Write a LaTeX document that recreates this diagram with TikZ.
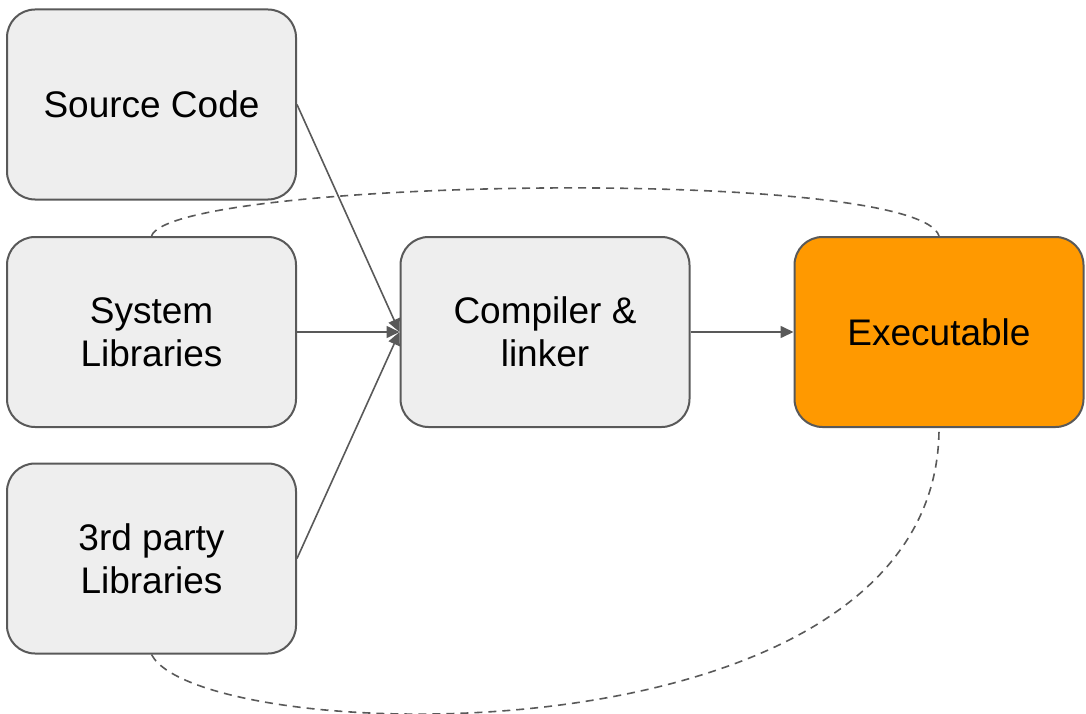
\documentclass[tikz,border=0pt]{standalone}
\usepackage{fontspec}
\setmainfont{Liberation Sans}
\usetikzlibrary{arrows.meta}
\definecolor{boxfill}{HTML}{EEEEEE}
\definecolor{boxline}{HTML}{595959}
\definecolor{orangefill}{HTML}{FF9900}
\tikzset{
  box/.style={draw=boxline, line width=2pt, fill=boxfill, rounded corners=28pt,
    minimum width=289pt, minimum height=190pt, inner sep=0pt, align=center,
    font=\fontsize{37}{43}\selectfont, text=black},
  conn/.style={draw=boxline, line width=1.6pt, -{Triangle[length=13pt,width=12pt]}},
  loopline/.style={draw=boxline, line width=1.6pt, dash pattern=on 8pt off 6pt}
}
\begin{document}
\begin{tikzpicture}[x=1pt,y=-1pt]
\useasboundingbox (0,0) rectangle (1086,714);
\node[box] (src) at (151.5,104.5) {Source Code};
\node[box] (sys) at (151.5,332) {System\\Libraries};
\node[box] (third) at (151.5,558.5) {3rd party\\Libraries};
\node[box] (comp) at (545,332) {Compiler \&\\linker};
\node[box, fill=orangefill] (exe) at (939,332) {Executable};
\draw[conn] (src.east) -- (comp.west);
\draw[conn] (sys.east) -- (comp.west);
\draw[conn] (third.east) -- (comp.west);
\draw[conn] (comp.east) -- (exe.west);
\draw[loopline] (sys.north) .. controls (172,178) and (918,166) .. (exe.north);
\draw[loopline] (third.south) .. controls (200,748) and (939,770) .. (exe.south);
\end{tikzpicture}
\end{document}
